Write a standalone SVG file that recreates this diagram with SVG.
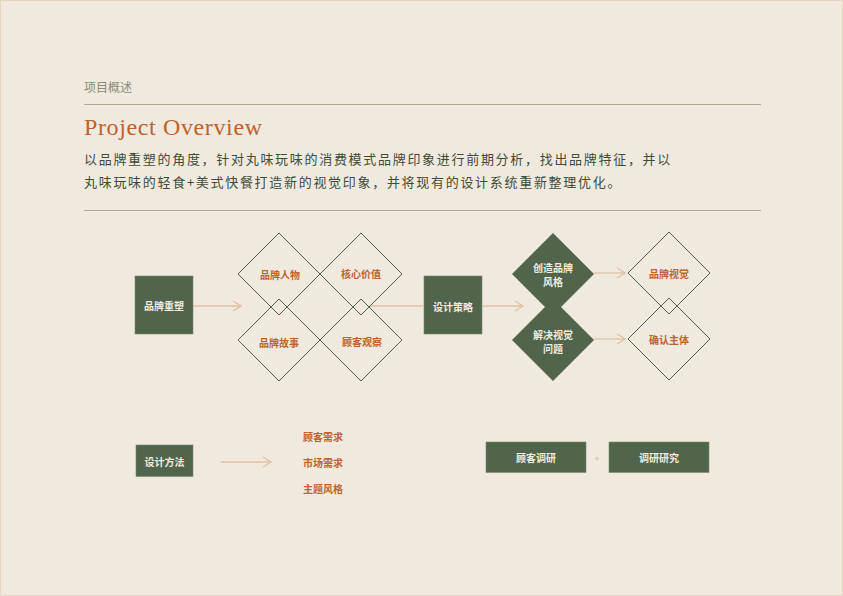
<svg xmlns="http://www.w3.org/2000/svg" width="843" height="596" viewBox="0 0 843 596">
<defs>
<style>
.bg{fill:#efe9de;stroke:#e3d8bc;stroke-width:1}
.rule{stroke:#aaac96;stroke-width:1}
.box{fill:#50654b;stroke:#7d876c;stroke-width:0.6}
.dia{fill:none;stroke:#4f6248;stroke-width:1}
.diaf{fill:#50654b}
.con{stroke:#e2c29f;stroke-width:1.3;fill:none}
.wt{font-family:"Noto Sans CJK SC","Noto Sans",sans-serif;font-size:10px;font-weight:700;fill:#f1ebdf;text-anchor:middle;dominant-baseline:central}
.ot{font-family:"Noto Sans CJK SC","Noto Sans",sans-serif;font-size:10px;font-weight:700;fill:#c0622e;text-anchor:middle;dominant-baseline:central}
.body{font-family:"Noto Sans CJK SC","Noto Sans",sans-serif;font-size:13px;fill:#3f4c38;letter-spacing:1.7px}
</style>
<marker id="chev" viewBox="0 0 10 12" refX="9" refY="6" markerWidth="10" markerHeight="12" markerUnits="userSpaceOnUse" orient="auto">
<path d="M1,1 L9,6 L1,11" fill="none" stroke="#e2c29f" stroke-width="1.3"/>
</marker>
</defs>
<rect class="bg" x="0.5" y="0.5" width="842" height="595"/>

<g id="header">
<text x="84" y="92" font-family="'Noto Sans CJK SC','Noto Sans',sans-serif" font-size="12" fill="#8b8b7b">项目概述</text>
<line class="rule" x1="84" y1="104.5" x2="761" y2="104.5"/>
<text x="84" y="135" font-family="'Liberation Serif','DejaVu Serif',serif" font-size="24" fill="#c0622e" textLength="178">Project Overview</text>
<text class="body" x="84" y="164">以品牌重塑的角度，针对丸味玩味的消费模式品牌印象进行前期分析，找出品牌特征，并以</text>
<text class="body" x="84" y="187">丸味玩味的轻食+美式快餐打造新的视觉印象，并将现有的设计系统重新整理优化。</text>
<line class="rule" x1="84" y1="210.5" x2="761" y2="210.5"/>
</g>

<g id="connectors">
<line class="con" x1="193" y1="306" x2="241" y2="306" marker-end="url(#chev)"/>
<line class="con" x1="370" y1="306" x2="423" y2="306"/>
<line class="con" x1="482" y1="306" x2="523" y2="306" marker-end="url(#chev)"/>
<line class="con" x1="594" y1="273" x2="625" y2="273" marker-end="url(#chev)"/>
<line class="con" x1="594" y1="339" x2="625" y2="339" marker-end="url(#chev)"/>
<line class="con" x1="221" y1="462" x2="271" y2="462" marker-end="url(#chev)"/>
</g>

<g id="n-brand-reshape"><rect class="box" x="135" y="276" width="58" height="58"/><text class="wt" x="164" y="305">品牌重塑</text></g>
<g id="n-brand-people"><path class="dia" d="M279,233 L320,274 L279,315 L238,274 Z"/><text class="ot" x="280" y="274">品牌人物</text></g>
<g id="n-core-value"><path class="dia" d="M361,233 L402,274 L361,315 L320,274 Z"/><text class="ot" x="361" y="273">核心价值</text></g>
<g id="n-brand-story"><path class="dia" d="M279,299 L320,340 L279,381 L238,340 Z"/><text class="ot" x="279" y="342">品牌故事</text></g>
<g id="n-customer-observe"><path class="dia" d="M361,299 L402,340 L361,381 L320,340 Z"/><text class="ot" x="362" y="341">顾客观察</text></g>
<g id="n-design-strategy"><rect class="box" x="424" y="276" width="58" height="58"/><text class="wt" x="453" y="306">设计策略</text></g>
<g id="n-create-style"><path class="diaf" d="M553,233 L594,274 L553,315 L512,274 Z"/><text class="wt" x="553" y="267.5">创造品牌</text><text class="wt" x="553" y="281.5">风格</text></g>
<g id="n-solve-visual"><path class="diaf" d="M553,299 L594,340 L553,381 L512,340 Z"/><text class="wt" x="553" y="334">解决视觉</text><text class="wt" x="553" y="348">问题</text></g>
<g id="n-brand-visual"><path class="dia" d="M669,232 L710,273 L669,314 L628,273 Z"/><text class="ot" x="669" y="273">品牌视觉</text></g>
<g id="n-confirm-subject"><path class="dia" d="M669,298 L710,339 L669,380 L628,339 Z"/><text class="ot" x="669" y="339">确认主体</text></g>

<g id="n-design-method"><rect class="box" x="136" y="445" width="57" height="31.5"/><text class="wt" x="164.5" y="461">设计方法</text></g>
<g id="n-methods">
<text class="ot" x="323" y="436">顾客需求</text>
<text class="ot" x="323" y="462">市场需求</text>
<text class="ot" x="323" y="488">主题风格</text>
</g>
<g id="n-customer-research"><rect class="box" x="486" y="442" width="100" height="30.5"/><text class="wt" x="536" y="457.5">顾客调研</text></g>
<text x="597" y="458.5" font-family="'Noto Sans',sans-serif" font-size="9" fill="#d9b48c" text-anchor="middle" dominant-baseline="central">+</text>
<g id="n-research-study"><rect class="box" x="609" y="442" width="100" height="30.5"/><text class="wt" x="659" y="457.5">调研研究</text></g>
</svg>
